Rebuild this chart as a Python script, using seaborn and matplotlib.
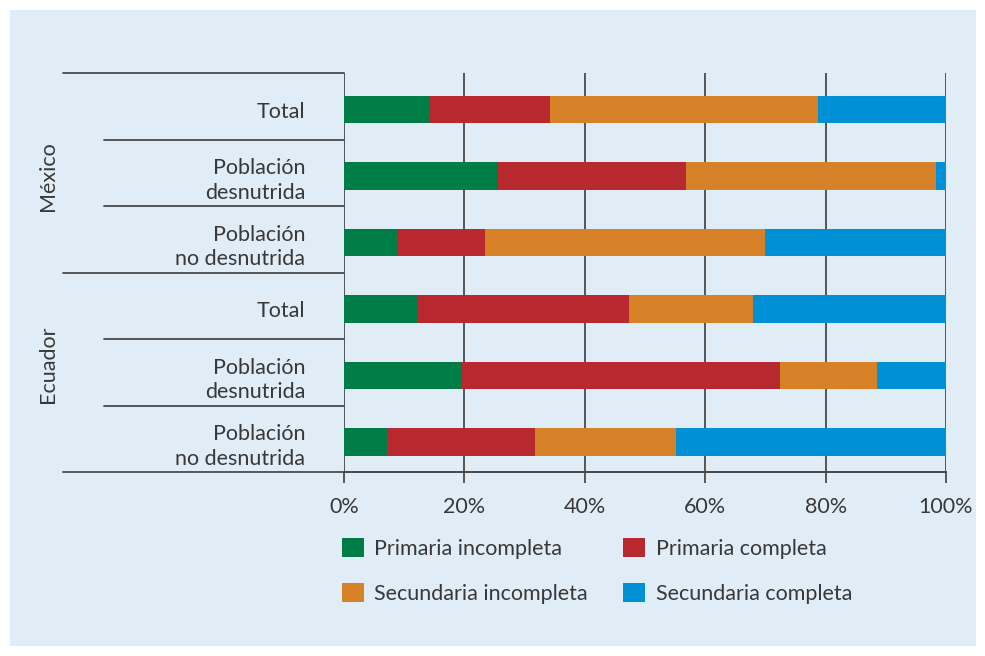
import numpy as np
import pandas as pd
import matplotlib
matplotlib.use("Agg")
import matplotlib.pyplot as plt
from matplotlib.patches import Patch, Rectangle
import seaborn as sns

# ====================== datos ======================
grupos = ['México', 'Ecuador']
filas = ['Total', 'Población\ndesnutrida', 'Población\nno desnutrida'] * 2
fila_id = ['mx_total', 'mx_desn', 'mx_nodesn', 'ec_total', 'ec_desn', 'ec_nodesn']

primaria_inc = [14.2, 25.5, 9.0, 12.1, 19.6, 7.1]
primaria_comp = [20.0, 31.3, 14.5, 35.3, 52.8, 24.6]
secundaria_inc = [44.6, 41.6, 46.4, 20.5, 16.1, 23.5]
secundaria_comp = [21.2, 1.6, 30.1, 32.1, 11.5, 44.8]

series = ['Primaria incompleta', 'Primaria completa', 'Secundaria incompleta', 'Secundaria completa']
colores = ['#007d46', '#b8292f', '#d68028', '#0090d6']
ticks = [0, 20, 40, 60, 80, 100]

fondo = '#e0edf7'
linea = '#4a4a4a'
texto = '#383838'
fs = 15.5

# ====================== estilo ======================
sns.set_theme(style='white')
plt.rcParams['font.family'] = ['Lato', 'DejaVu Sans']

df = pd.DataFrame({
    'fila': fila_id,
    series[0]: primaria_inc,
    series[1]: primaria_comp,
    series[2]: secundaria_inc,
    series[3]: secundaria_comp,
})
acum = df[series].cumsum(axis=1)
acum['fila'] = df['fila']

fig = plt.figure(figsize=(9.85, 6.56), dpi=100)
fig.patch.set_facecolor('white')
fig.patches.append(Rectangle((10 / 985, 1 - 646 / 656), 966 / 985, 636 / 656,
                             transform=fig.transFigure, facecolor=fondo,
                             edgecolor='none', zorder=-10))

ax = fig.add_axes([344 / 985, 1 - 472 / 656, 602 / 985, 399 / 656])
ax.set_facecolor('none')

# barras apiladas: dibujar acumulados de mayor a menor
for s, c in reversed(list(zip(series, colores))):
    sns.barplot(data=acum, x=s, y='fila', order=fila_id, orient='h', color=c,
                saturation=1, width=0.41, errorbar=None, ax=ax, zorder=3,
                linewidth=0, edgecolor='none')

ax.set_xlim(0, 100)
ax.set_ylim(5.45, -0.55)
ax.set_xlabel('')
ax.set_ylabel('')

ax.set_xticks(ticks)
ax.set_xticklabels([f'{t}%' for t in ticks])
ax.set_yticks(range(len(filas)))
ax.set_yticklabels(filas, linespacing=1.3)
ax.tick_params(axis='y', length=0, pad=28, labelsize=fs, labelcolor=texto)
ax.tick_params(axis='x', bottom=True, length=8, width=1.3, color=linea,
               direction='out', pad=10, labelsize=fs, labelcolor=texto)

ax.grid(axis='x', color=linea, linewidth=1.3, zorder=0)
ax.set_axisbelow(True)
for lado in ['top', 'right', 'left']:
    ax.spines[lado].set_visible(False)
ax.spines['bottom'].set_color('#333333')
ax.spines['bottom'].set_linewidth(1.3)

# líneas de la tabla a la izquierda (coordenadas de ejes)
x_largo = (63 - 344) / 602
x_corto = (104 - 344) / 602
for i in range(7):
    yy = 1 - i / 6
    x0 = x_largo if i in (0, 3, 6) else x_corto
    x1 = 1.0 if i == 6 else 0.0
    ax.plot([x0, x1], [yy, yy], transform=ax.transAxes, color=linea,
            linewidth=1.3, clip_on=False, zorder=4)

# etiquetas de país
pos_grupo = [1 - 176 / 399 + 73 / 399, 1 - 364 / 399 + 73 / 399]
for g, yy in zip(grupos, pos_grupo):
    ax.text((48 - 344) / 602, yy, g, transform=ax.transAxes,
            rotation=90, ha='center', va='center', fontsize=fs, color=texto)

# leyenda
orden = [0, 2, 1, 3]
handles = [Patch(facecolor=colores[i], edgecolor='none') for i in orden]
labels = [series[i] for i in orden]
fig.legend(handles, labels, ncol=2, loc='upper left',
           bbox_to_anchor=(342 / 985, 1 - 538 / 656), frameon=False,
           fontsize=fs, labelcolor=texto, handlelength=1.0, handleheight=1.0,
           handletextpad=0.5, columnspacing=1.65, labelspacing=1.12, borderpad=0,
           borderaxespad=0)

fig.savefig('out.png', dpi=100, facecolor='white')
